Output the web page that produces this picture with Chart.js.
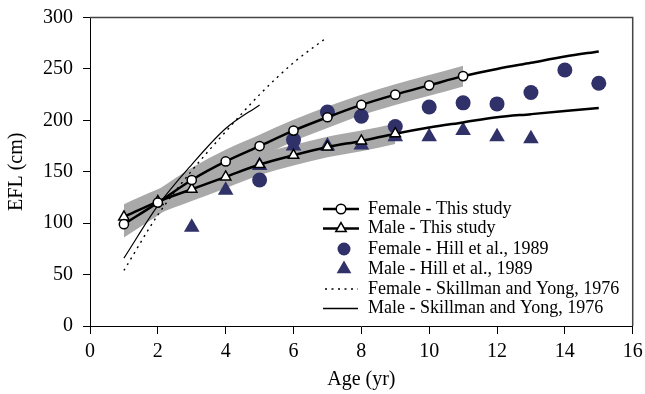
<!DOCTYPE html>
<html><head><meta charset="utf-8">
<script src="https://cdn.jsdelivr.net/npm/chart.js@4/dist/chart.umd.min.js"></script>
<style>html,body{margin:0;padding:0;background:#fff}</style>
</head><body>
<canvas id="c" width="645" height="394"></canvas>
<script>
// ---- data ----
const fitAges = [1,2,3,4,5,6,7,8,9,10,11,12,13,14,15];
const femaleFit = [99,120,142,160,175,190,203,215,225,234,243,250,256,262,267];
const maleFit   = [106,121,133,145,157,166,174,180,187,193,198,203,206,209,212];

const femaleStudyAges = [1,2,3,4,5,6,7,8,9,10,11];
const femaleStudy     = [99,120,142,160,175,190,203,215,225,234,243];
const maleStudyAges   = [1,2,3,4,5,6,7,8,9];
const maleStudy       = [106,121,133,145,157,166,174,180,187];

const femaleBandAges  = [1,2,3,4,5,6,7,8,9,10,11];
const femaleBandUpper = [112,132.5,154,171.5,186,200.5,213.5,225,235,244,253];
const femaleBandLower = [86,107.5,130,148.5,164,179.5,192.5,205,215,224,233];
const maleBandAges    = [1,2,3,4,5,6,7,8,9];
const maleBandUpper   = [118.5,133,144.5,156,167.5,176,184,190,197];
const maleBandLower   = [93.5,109,121.5,134,146.5,156,164,170,177];

const hillFemaleAges = [5,6,7,8,9,10,11,12,13,14,15];
const hillFemale     = [142,181,208,204,194,213,217,216,227,249,236];
const hillMaleAges   = [3,4,5,6,7,8,9,10,11,12,13];
const hillMale       = [96,132,156,175,175,176,184,184,190,184,182];

const skillFemaleAges = [1,2,3,4,5,6,7];
const skillFemale     = [54,108,151,189,225,256,281];
const skillMaleAges   = [1,2,3,4,5];
const skillMale       = [66,117,157,192,215];

const xTicks = [0,2,4,6,8,10,12,14,16];
const yTicks = [0,50,100,150,200,250,300];

const legendLabels = [
  'Female - This study',
  'Male - This study',
  'Female - Hill et al., 1989',
  'Male - Hill et al., 1989',
  'Female - Skillman and Yong, 1976',
  'Male - Skillman and Yong, 1976'
];

// ---- helpers ----
const serif = "'Liberation Serif','Times New Roman',serif";
const NAVY = '#2f3168';
const GRAY = '#a9a9a9';
const pts = (xs, ys) => xs.map((x, i) => ({x: x, y: ys[i]}));

Chart.defaults.font.family = serif;
Chart.defaults.color = '#000';

const legendPlugin = {
  id: 'customLegend',
  afterDraw(chart) {
    const ctx = chart.ctx;
    const x0 = 323, x1 = 359, xm = 341, xt = 368;
    const rows = [209, 228.5, 249, 269, 289, 308.5];
    ctx.save();
    rows.forEach((y, i) => {
      ctx.strokeStyle = '#000';
      ctx.setLineDash([]);
      if (i === 0 || i === 1) {
        ctx.lineWidth = 2.5;
        ctx.beginPath(); ctx.moveTo(x0, y); ctx.lineTo(x1, y); ctx.stroke();
        ctx.lineWidth = 1.5;
        ctx.fillStyle = '#fff';
        ctx.beginPath();
        if (i === 0) {
          ctx.arc(xm, y, 4.8, 0, Math.PI * 2);
        } else {
          const r = 6;
          ctx.moveTo(xm, y - r);
          ctx.lineTo(xm + r * 0.866, y + r * 0.5);
          ctx.lineTo(xm - r * 0.866, y + r * 0.5);
          ctx.closePath();
        }
        ctx.fill(); ctx.stroke();
      } else if (i === 2 || i === 3) {
        ctx.fillStyle = NAVY;
        ctx.beginPath();
        if (i === 2) {
          ctx.arc(344, y, 6.5, 0, Math.PI * 2);
        } else {
          const r = 8.5;
          ctx.moveTo(344, y - r);
          ctx.lineTo(344 + r * 0.866, y + r * 0.5);
          ctx.lineTo(344 - r * 0.866, y + r * 0.5);
          ctx.closePath();
        }
        ctx.fill();
      } else if (i === 4) {
        ctx.lineWidth = 1.3;
        ctx.setLineDash([2, 4.5]);
        ctx.beginPath(); ctx.moveTo(325, y); ctx.lineTo(358, y); ctx.stroke();
      } else {
        ctx.lineWidth = 1.3;
        ctx.beginPath(); ctx.moveTo(323, y); ctx.lineTo(358, y); ctx.stroke();
      }
      ctx.setLineDash([]);
      ctx.fillStyle = '#000';
      ctx.font = '18px ' + serif;
      ctx.textAlign = 'left';
      ctx.textBaseline = 'middle';
      ctx.fillText(legendLabels[i], xt, y);
    });
    ctx.restore();
  }
};

const framePlugin = {
  id: 'frame',
  afterDraw(chart) {
    const a = chart.chartArea, ctx = chart.ctx;
    ctx.save();
    ctx.strokeStyle = '#444';
    ctx.lineWidth = 1.5;
    ctx.beginPath();
    ctx.moveTo(a.left, a.top);
    ctx.lineTo(a.right, a.top);
    ctx.lineTo(a.right, a.bottom);
    ctx.stroke();
    ctx.restore();
  }
};

const datasets = [
  {label: legendLabels[0] + ' pts', data: pts(femaleStudyAges, femaleStudy), showLine: false,
   pointStyle: 'circle', pointRadius: 4.6, borderWidth: 1.5, borderColor: '#000', backgroundColor: '#fff', order: 0},
  {label: legendLabels[1] + ' pts', data: pts(maleStudyAges, maleStudy), showLine: false,
   pointStyle: 'triangle', pointRadius: 6, borderWidth: 1.5, borderColor: '#000', backgroundColor: '#fff', order: 0},
  {label: legendLabels[0], data: pts(fitAges, femaleFit), pointRadius: 0, borderWidth: 2.5,
   borderColor: '#000', cubicInterpolationMode: 'monotone', order: 1},
  {label: legendLabels[1], data: pts(fitAges, maleFit), pointRadius: 0, borderWidth: 2.5,
   borderColor: '#000', cubicInterpolationMode: 'monotone', order: 1},
  {label: legendLabels[2], data: pts(hillFemaleAges, hillFemale), showLine: false,
   pointStyle: 'circle', pointRadius: 7.5, borderWidth: 0, backgroundColor: NAVY, borderColor: NAVY, order: 2},
  {label: legendLabels[3], data: pts(hillMaleAges, hillMale), showLine: false,
   pointStyle: 'triangle', pointRadius: 9, borderWidth: 0, backgroundColor: NAVY, borderColor: NAVY, order: 2},
  {label: legendLabels[4], data: pts(skillFemaleAges, skillFemale), pointRadius: 0, borderWidth: 1.4,
   borderColor: '#000', borderDash: [2, 4.5], cubicInterpolationMode: 'monotone', order: 3},
  {label: legendLabels[5], data: pts(skillMaleAges, skillMale), pointRadius: 0, borderWidth: 1.2,
   borderColor: '#000', cubicInterpolationMode: 'monotone', order: 3},
  {label: 'female band upper', data: pts(femaleBandAges, femaleBandUpper), pointRadius: 0, borderWidth: 0,
   borderColor: 'rgba(0,0,0,0)', backgroundColor: GRAY, fill: '+1', cubicInterpolationMode: 'monotone', order: 4},
  {label: 'female band lower', data: pts(femaleBandAges, femaleBandLower), pointRadius: 0, borderWidth: 0,
   borderColor: 'rgba(0,0,0,0)', cubicInterpolationMode: 'monotone', order: 4},
  {label: 'male band upper', data: pts(maleBandAges, maleBandUpper), pointRadius: 0, borderWidth: 0,
   borderColor: 'rgba(0,0,0,0)', backgroundColor: GRAY, fill: '+1', cubicInterpolationMode: 'monotone', order: 4},
  {label: 'male band lower', data: pts(maleBandAges, maleBandLower), pointRadius: 0, borderWidth: 0,
   borderColor: 'rgba(0,0,0,0)', cubicInterpolationMode: 'monotone', order: 4}
];

new Chart(document.getElementById('c'), {
  type: 'line',
  data: {datasets: datasets},
  options: {
    responsive: false,
    animation: false,
    devicePixelRatio: 1,
    layout: {padding: {top: 17.5, right: 12.3, left: 0, bottom: 0}},
    plugins: {legend: {display: false}, tooltip: {enabled: false}},
    elements: {line: {tension: 0}},
    scales: {
      x: {
        type: 'linear', min: 0, max: 16,
        afterBuildTicks: s => { s.ticks = xTicks.map(v => ({value: v})); },
        afterFit: s => { s.height = 68; },
        ticks: {font: {size: 20, family: serif, lineHeight: '32px'}, color: '#000', padding: 2, maxRotation: 0},
        grid: {drawOnChartArea: false, drawTicks: true, tickLength: 8, color: '#000', lineWidth: 1},
        border: {display: true, color: '#000', width: 1},
        title: {display: true, text: 'Age (yr)', font: {size: 20, family: serif}, color: '#000', padding: {top: 0, bottom: 2}}
      },
      y: {
        type: 'linear', min: 0, max: 300,
        afterBuildTicks: s => { s.ticks = yTicks.map(v => ({value: v})); },
        afterFit: s => { s.width = 90; },
        ticks: {font: {size: 20, family: serif, lineHeight: '15px'}, color: '#000', padding: 10},
        grid: {drawOnChartArea: false, drawTicks: true, tickLength: 7, color: '#000', lineWidth: 1},
        border: {display: true, color: '#000', width: 1},
        title: {display: true, text: 'EFL (cm)', font: {size: 20, family: serif}, color: '#000', padding: {top: 5, bottom: 0}}
      }
    }
  },
  plugins: [legendPlugin, framePlugin]
});
</script>
</body></html>
